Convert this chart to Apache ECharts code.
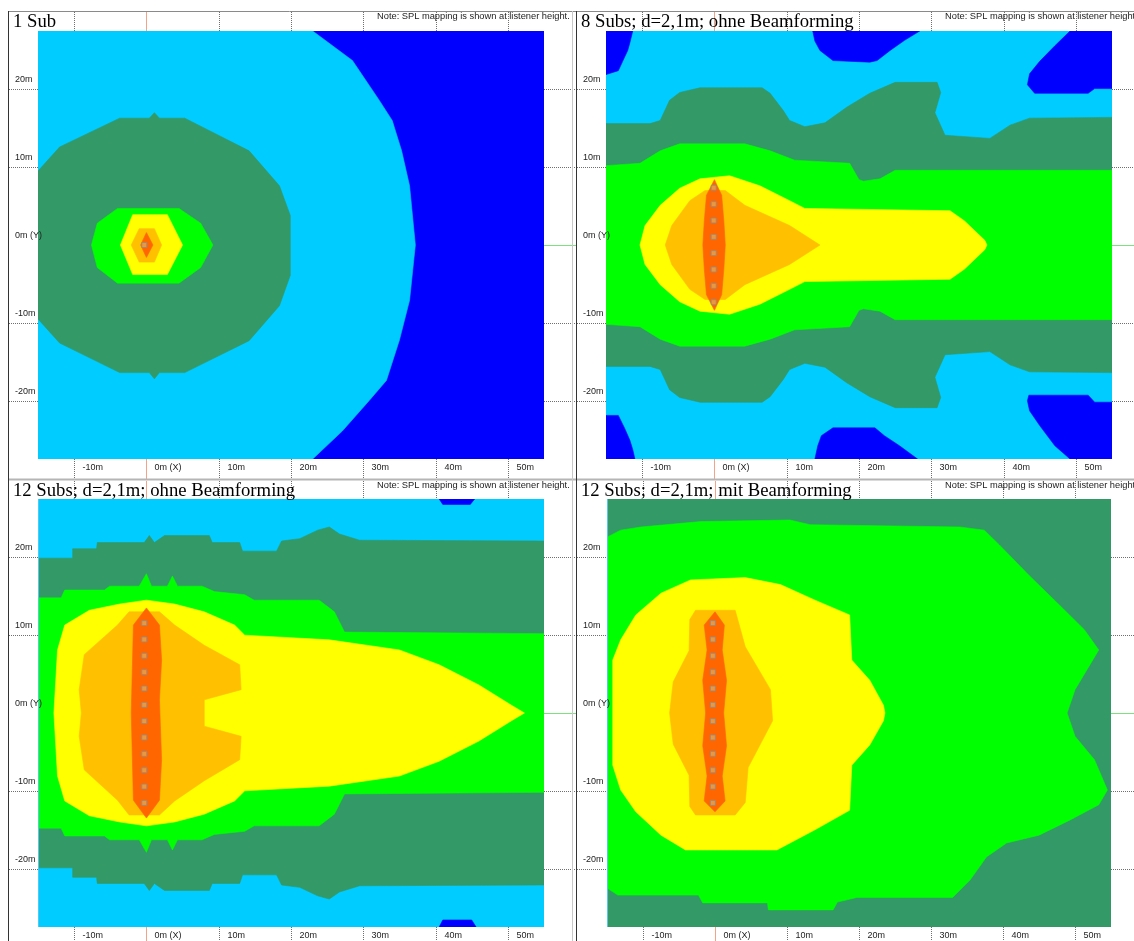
<!DOCTYPE html>
<html>
<head>
<meta charset="utf-8">
<script src="https://cdn.jsdelivr.net/npm/echarts@6/dist/echarts.min.js"></script>
<style>
  html, body { margin: 0; padding: 0; background: #fff; }
  #chart { width: 1134px; height: 941px; }
</style>
</head>
<body>
<div id="chart"></div>
<script>
// ---- SPL level colours (lowest to highest) ----
const LEVEL = {
  blue: '#0000FF',
  cyan: '#00CCFF',
  dkgreen: '#339966',
  green: '#00FF00',
  yellow: '#FFFF00',
  orange: '#FFC000',
  red: '#FF6600'
};

// ---- axes ----
const xRange = [-15, 55];
const yRange = [-27.5, 27.5];
const xTicks = [-10, 0, 10, 20, 30, 40, 50];
const xTickLabels = ['-10m', '0m (X)', '10m', '20m', '30m', '40m', '50m'];
const yTicks = [-20, -10, 0, 10, 20];
const yTickLabels = ['-20m', '-10m', '0m (Y)', '10m', '20m'];

const titles = [
  '1 Sub',
  '8 Subs; d=2,1m; ohne Beamforming',
  '12 Subs; d=2,1m; ohne Beamforming',
  '12 Subs; d=2,1m; mit Beamforming'
];
const noteText = 'Note: SPL mapping is shown at listener height.';

// ---- subwoofer positions (m) ----
const subs1 = [[-0.3, 0]];
const subs8 = [[-0.1, 7.35], [-0.1, 5.25], [-0.1, 3.15], [-0.1, 1.05],
               [-0.1, -1.05], [-0.1, -3.15], [-0.1, -5.25], [-0.1, -7.35]];
const subs12 = [[-0.3, 11.55], [-0.3, 9.45], [-0.3, 7.35], [-0.3, 5.25], [-0.3, 3.15], [-0.3, 1.05],
                [-0.3, -1.05], [-0.3, -3.15], [-0.3, -5.25], [-0.3, -7.35], [-0.3, -9.45], [-0.3, -11.55]];

// ---- level contours, outlines in metres ----
const fullArea = [[-15, 27.5], [55, 27.5], [55, -27.5], [-15, -27.5]];

// 1 Sub
const p1Cyan = [[-15, 27.5], [23, 27.5], [28.5, 23.7], [32.2, 18.6], [34, 16], [35.3, 12.1], [36.4, 7.6], [37.2, 0],
  [36.4, -7.1], [35, -12.2], [33.2, -17.4], [30.8, -20], [27.1, -23.9], [23, -27.5], [-15, -27.5]];
const p1DkGreen = [[-15, 9.5], [-12, 12.6], [-3.7, 16.3], [0.4, 16.3], [1.1, 17.0], [1.8, 16.3], [5.3, 16.3],
  [14.2, 12.1], [18.4, 7.6], [19.9, 3.8], [19.9, -3.9], [18.4, -7.8], [14.2, -12.3], [5.3, -16.4], [1.8, -16.4],
  [1.1, -17.2], [0.4, -16.4], [-3.7, -16.4], [-12, -12.6], [-15, -9.5]];
const p1Green = [[-4, 4.7], [4.5, 4.7], [7.5, 2.8], [9.2, 0], [7.5, -2.9], [4.5, -4.9], [-4, -4.9], [-6.8, -2.9], [-7.6, 0], [-6.8, 2.8]];
const p1Yellow = [[-1.9, 3.9], [2.9, 3.9], [5, 0], [2.9, -3.8], [-1.9, -3.8], [-3.6, 0]];
const p1Orange = [[-1.0, 2.1], [1.1, 2.1], [2.1, 0], [1.1, -2.2], [-1.0, -2.2], [-2.1, 0]];
const p1Red = [[0, 1.6], [0.9, 0], [0, -1.6], [-0.8, 0]];

// 8 Subs, no beamforming
const p2BlueTL = [[-15, 27.5], [-11.3, 27.5], [-11.7, 26], [-12, 25], [-12.7, 23.6], [-13.3, 22.4], [-15, 21.9]];
const p2BlueTM = [[13.6, 27.5], [13.9, 26.2], [14.6, 25], [16.4, 23.7], [21.5, 23.5], [22.5, 23.7], [24.3, 25], [26.3, 26.3], [28.4, 27.5]];
const p2BlueTR = [[49.2, 27.5], [47.1, 25.6], [45, 23.6], [43.6, 22], [43.3, 20.6], [44.3, 19.5], [51.7, 19.5], [52.6, 20.1], [55, 20.1], [55, 27.5]];
const p2BlueBL = [[-15, -21.9], [-13.3, -21.9], [-12.4, -23.6], [-11.7, -25.1], [-11.3, -26.3], [-11, -27.5], [-15, -27.5]];
const p2BlueBM = [[13.9, -27.5], [14.3, -25.8], [14.8, -24.5], [16.4, -23.5], [22.2, -23.5], [23.5, -24.5], [25.6, -25.8], [28.1, -27.5]];
const p2BlueBR = [[43.5, -19.3], [51.7, -19.3], [52.6, -20.2], [55, -20.2], [55, -27.5], [49.2, -27.5], [47.1, -25.8], [45, -23.2], [43.6, -21.3], [43.3, -20]];
const p2DkGreen = [[-15, 15.6], [-8.9, 15.6], [-7.5, 16.0], [-6.2, 18.6], [-4.8, 19.6], [-2.0, 20.2], [6.6, 20.2], [7.7, 19.5],
  [9.5, 17.3], [10.4, 16.0], [12.5, 15.2], [15.3, 15.7], [18.3, 17.7], [21.5, 19.5], [25.0, 20.9], [30.8, 20.9], [31.3, 19.6],
  [30.5, 17.0], [31.9, 14.1], [38.1, 13.7], [40.9, 15.4], [43.6, 16.3], [55, 16.4],
  [55, -16.4], [43.6, -16.3], [40.9, -15.4], [38.1, -13.7], [31.9, -14.1], [30.5, -17.0], [31.3, -19.6], [30.8, -20.9],
  [25.0, -20.9], [21.5, -19.5], [18.3, -17.7], [15.3, -15.7], [12.5, -15.2], [10.4, -16.0], [9.5, -17.3], [7.7, -19.5],
  [6.6, -20.2], [-2.0, -20.2], [-4.8, -19.6], [-6.2, -18.6], [-7.5, -16.0], [-8.9, -15.6], [-15, -15.6]];
const p2Green = [[-15, 10.2], [-10.3, 10.5], [-7.5, 12.1], [-4.8, 13.0], [4.2, 13.0], [7.7, 12.1], [11.1, 10.9], [18.7, 10.5],
  [20.0, 8.4], [20.6, 8.2], [22.9, 8.5], [25.0, 9.6], [55, 9.6], [55, -9.6], [25, -9.6], [22.9, -8.5], [20.6, -8.2], [20.0, -8.4],
  [18.7, -10.5], [11.1, -10.9], [7.7, -12.1], [4.2, -13], [-4.8, -13], [-7.5, -12.1], [-10.3, -10.5], [-15, -10.2]];
const p2Yellow = [[-10.3, 0], [-9.6, 2.5], [-7.5, 5.1], [-4.8, 7.3], [-2.0, 8.5], [2.1, 8.9], [6.3, 7.6], [10.4, 5.7], [12.5, 4.7],
  [32.6, 4.4], [34.6, 3.1], [37.4, 0.6], [37.7, 0], [37.4, -0.6], [34.6, -3.1], [32.6, -4.4], [12.5, -4.7], [10.4, -5.7],
  [6.3, -7.6], [2.1, -8.9], [-2.0, -8.5], [-4.8, -7.3], [-7.5, -5.1], [-9.6, -2.5]];
const p2Orange = [[-6.8, 0], [-5.9, 2.5], [-3.4, 5.7], [-1.3, 7.0], [1.5, 7.0], [4.2, 5.1], [10.4, 2.5], [14.6, 0],
  [10.4, -2.5], [4.2, -5.1], [1.5, -7.0], [-1.3, -7.0], [-3.4, -5.7], [-5.9, -2.5]];
const p2Red = [[0, 8.4], [1.0, 6.4], [1.3, 3.1], [1.5, 0], [1.3, -3.1], [1.0, -6.4], [0, -8.4], [-1.1, -6.4], [-1.4, -3.1],
  [-1.6, 0], [-1.4, 3.1], [-1.1, 6.4]];

// 12 Subs, no beamforming
const p3BlueTop = [[40.5, 27.5], [45.4, 27.5], [44.8, 26.8], [41.0, 26.8]];
const p3BlueBot = [[40.5, -27.5], [41.0, -26.6], [45.0, -26.6], [45.6, -27.5]];
const p3DkGreen = [[-15, 19.9], [-10.2, 19.9], [-10.2, 21.1], [-6.9, 21.1], [-6.8, 21.9], [-0.3, 21.9], [0.4, 22.8], [1.1, 21.9],
  [2.5, 22.8], [8.7, 22.8], [9.1, 21.9], [12.9, 21.9], [13.3, 20.8], [18.0, 20.8], [18.7, 22.1], [21.2, 22.4], [23.7, 23.5],
  [25.3, 23.9], [26.7, 23.0], [29.5, 22.2], [55, 22.1],
  [55, -22.1], [29.5, -22.2], [26.7, -23.0], [25.3, -23.9], [23.7, -23.5], [21.2, -22.4], [18.7, -22.1], [18.0, -20.8],
  [13.3, -20.8], [12.9, -21.9], [9.1, -21.9], [8.7, -22.8], [2.5, -22.8], [1.1, -21.9], [0.4, -22.8], [-0.3, -21.9],
  [-6.8, -21.9], [-6.9, -21.1], [-10.2, -21.1], [-10.2, -19.9], [-15, -19.9]];
const p3Green = [[-15, 14.8], [-11.8, 14.8], [-11.3, 15.8], [-5.8, 15.8], [-5.1, 16.3], [-1.0, 16.3], [0, 17.9], [0.7, 16.3],
  [2.9, 16.3], [3.6, 17.6], [4.3, 16.3], [7.7, 16.3], [9.4, 15.6], [13.6, 15.2], [14.9, 14.5], [23.9, 14.5], [26.0, 13.0],
  [27.4, 10.4], [55, 10.2],
  [55, -10.2], [27.4, -10.4], [26.0, -13.0], [23.9, -14.5], [14.9, -14.5], [13.6, -15.2], [9.4, -15.6], [7.7, -16.3],
  [4.3, -16.3], [3.6, -17.6], [2.9, -16.3], [0.7, -16.3], [0, -17.9], [-1.0, -16.3], [-5.1, -16.3], [-5.8, -15.8],
  [-11.3, -15.8], [-11.8, -14.8], [-15, -14.8]];
const p3Yellow = [[-12.8, 0], [-12.3, 8.1], [-11.3, 11.3], [-7.9, 13.2], [-3.7, 14.0], [0, 14.5], [3.9, 14.0], [8.0, 13.0],
  [12.2, 11.3], [13.6, 10.0], [25.3, 9.4], [35, 8.1], [40.5, 6.2], [46, 3.6], [50.5, 1.0], [52.3, 0],
  [50.5, -1.0], [46, -3.6], [40.5, -6.2], [35, -8.1], [25.3, -9.4], [13.6, -10.0], [12.2, -11.3], [8.0, -13.0],
  [3.9, -14.0], [0, -14.5], [-3.7, -14.0], [-7.9, -13.2], [-11.3, -11.3], [-12.3, -8.1]];
const p3Orange = [[-2.4, 13.0], [1.8, 13.0], [3.9, 11.3], [8.0, 8.7], [12.9, 6.2], [13.1, 3.0], [8.0, 1.7], [8.0, -1.7],
  [13.1, -3.0], [12.9, -6.0], [8.0, -8.7], [3.9, -11.3], [1.8, -13.1], [-2.4, -13.1], [-4.0, -11.2], [-8.6, -7.3],
  [-9.3, -3.0], [-9.0, 0], [-9.3, 3.0], [-8.6, 7.5], [-4.0, 11.3]];
const p3Red = [[0, 13.5], [1.8, 11.3], [2.1, 6.8], [1.8, 1.7], [2.1, -6], [1.8, -11.2], [0, -13.5], [-1.8, -11.2], [-2.1, 0], [-1.8, 11.3]];

// 12 Subs, with beamforming
const p4Green = [[-15, 22.6], [-13.1, 23.5], [-10.3, 23.9], [-2.0, 24.6], [10.4, 24.8], [13.2, 24.2], [34, 23.9], [37.4, 23.5],
  [39.5, 21.6], [43.6, 17.7], [47.8, 13.9], [51.3, 10.7], [53.3, 8.1], [50, 3.0], [48.9, 0], [50, -3.0], [52.7, -6.0],
  [54.5, -9.9], [53.3, -11.8], [49.2, -13.8], [45, -15.7], [40.5, -16.7], [37.7, -18.5], [35.4, -21.5], [33.0, -23.7],
  [19.7, -23.7], [17.0, -24.3], [16.4, -25.3], [7.4, -25.3], [7.3, -24.4], [-1.7, -24.4], [-2.3, -23.4], [-13.5, -23.4], [-15, -22.5]];
const p4Yellow = [[-14.2, 6.8], [-13.1, 9.4], [-11, 12.6], [-7.5, 15.4], [-3.4, 17.1], [4.2, 17.4], [9.1, 16.5], [13.9, 14.5],
  [18.7, 12.6], [19.0, 6.8], [21.5, 4.2], [23.4, 1.0], [23.6, 0], [23.4, -1.0], [21.5, -4.1], [19, -6.7], [18.7, -12.5],
  [13.9, -15.0], [8.6, -17.6], [-4.1, -17.6], [-7.5, -15.7], [-11, -12.7], [-13.1, -9.9], [-14.2, -6.7]];
const p4Orange = [[-2.7, 13.2], [2.8, 13.2], [4.2, 8.5], [7.7, 3.0], [8.0, -1.0], [4.6, -7.0], [4.2, -11.5], [2.8, -13.1],
  [-2.7, -13.1], [-3.5, -12.0], [-3.6, -8.0], [-5.8, -4.0], [-6.3, 0], [-5.8, 4.0], [-3.6, 8.0], [-3.5, 12.0]];
const p4Red = [[0, 13], [1.3, 11.3], [1.0, 8.1], [1.6, 4.2], [1.2, 0], [1.6, -4.2], [1.0, -8.1], [1.4, -11.3], [0, -12.7],
  [-1.5, -11.3], [-1.1, -8.1], [-1.7, -4.2], [-1.3, 0], [-1.7, 4.2], [-1.1, 8.1], [-1.5, 11.3]];

// stacking order: each list is painted from the lowest level upwards
const panels = [
  { frame: [8, 11], plot: [38, 31, 506, 428], subs: subs1, edge: false, zones: [
    ['blue', fullArea], ['cyan', p1Cyan], ['dkgreen', p1DkGreen], ['green', p1Green],
    ['yellow', p1Yellow], ['orange', p1Orange], ['red', p1Red]] },
  { frame: [576, 11], plot: [606, 31, 506, 428], subs: subs8, edge: false, zones: [
    ['cyan', fullArea], ['blue', p2BlueTL], ['blue', p2BlueTM], ['blue', p2BlueTR], ['blue', p2BlueBL],
    ['blue', p2BlueBM], ['blue', p2BlueBR], ['dkgreen', p2DkGreen], ['green', p2Green],
    ['yellow', p2Yellow], ['orange', p2Orange], ['red', p2Red]] },
  { frame: [8, 480], plot: [38, 499, 506, 428], subs: subs12, edge: true, zones: [
    ['cyan', fullArea], ['blue', p3BlueTop], ['blue', p3BlueBot], ['dkgreen', p3DkGreen], ['green', p3Green],
    ['yellow', p3Yellow], ['orange', p3Orange], ['red', p3Red]] },
  { frame: [576, 480], plot: [607, 499, 504, 428], subs: subs12, edge: true, zones: [
    ['dkgreen', fullArea], ['green', p4Green], ['yellow', p4Yellow], ['orange', p4Orange], ['red', p4Red]] }
];

const SANS = '"Liberation Sans", Arial, sans-serif';
const SERIF = '"Liberation Serif", "Times New Roman", serif';
const DOT = '#6f6f6f';

const grids = [], xAxes = [], yAxes = [], series = [], graphics = [];

panels.forEach((p, k) => {
  grids.push({ left: p.plot[0], top: p.plot[1], width: p.plot[2], height: p.plot[3], containLabel: false });
  xAxes.push({ gridIndex: k, type: 'value', min: xRange[0], max: xRange[1], show: false });
  yAxes.push({ gridIndex: k, type: 'value', min: yRange[0], max: yRange[1], show: false });

  // coloured SPL levels
  series.push({
    type: 'custom', xAxisIndex: k, yAxisIndex: k, clip: true, silent: true, z: 1,
    data: p.zones.map((z, i) => [i]),
    renderItem: (params, api) => {
      const z = p.zones[params.dataIndex];
      return {
        type: 'polygon',
        shape: { points: z[1].map(pt => api.coord(pt)) },
        style: { fill: LEVEL[z[0]], stroke: LEVEL[z[0]], lineWidth: 0.6 }
      };
    }
  });

  // x ticks: dotted marks in the top and bottom margins plus labels
  series.push({
    type: 'custom', xAxisIndex: k, yAxisIndex: k, clip: false, silent: true, z: 3,
    data: xTicks.map(v => [v, 0]),
    renderItem: (params, api) => {
      const cs = params.coordSys;
      const i = params.dataIndex;
      const x = Math.round(api.coord([xTicks[i], 0])[0]) + 0.5;
      const isZero = xTicks[i] === 0;
      const ls = isZero ? { stroke: '#F2A488', lineWidth: 1 } : { stroke: DOT, lineWidth: 1, lineDash: [1, 1] };
      const top = cs.y, bot = cs.y + cs.height;
      const kids = [
        { type: 'line', shape: { x1: x, y1: p.frame[1] + 1, x2: x, y2: top }, style: ls },
        { type: 'line', shape: { x1: x, y1: bot, x2: x, y2: bot + 20 }, style: ls },
        { type: 'text', style: { text: xTickLabels[i], x: x + 8, y: bot + 8.5, font: '9px ' + SANS,
          fill: '#222', verticalAlign: 'middle', align: 'left' } }
      ];
      // thin light-blue plot edges on the lower panels
      if (p.edge && i === 0) {
        kids.push({ type: 'line', shape: { x1: cs.x + 0.5, y1: top, x2: cs.x + 0.5, y2: bot },
          style: { stroke: '#55C8F2', lineWidth: 1 } });
      }
      return { type: 'group', children: kids };
    }
  });

  // y ticks: dotted marks in the left and right margins plus labels
  series.push({
    type: 'custom', xAxisIndex: k, yAxisIndex: k, clip: false, silent: true, z: 3,
    data: yTicks.map(v => [0, v]),
    renderItem: (params, api) => {
      const cs = params.coordSys;
      const i = params.dataIndex;
      const y = Math.round(api.coord([0, yTicks[i]])[1]) + 0.5;
      const isZero = yTicks[i] === 0;
      const ls = { stroke: DOT, lineWidth: 1, lineDash: [1, 1] };
      const lsRight = isZero ? { stroke: '#7EE07E', lineWidth: 1 } : ls;
      const left = cs.x, right = cs.x + cs.width;
      return { type: 'group', children: [
        { type: 'line', shape: { x1: p.frame[0] + 1, y1: y, x2: left, y2: y }, style: isZero ? { stroke: 'transparent' } : ls },
        { type: 'line', shape: { x1: right, y1: y, x2: right + 32, y2: y }, style: lsRight },
        { type: 'text', style: { text: yTickLabels[i], x: p.frame[0] + 7, y: y - 10, font: '9px ' + SANS,
          fill: '#222', verticalAlign: 'middle', align: 'left' } }
      ] };
    }
  });

  // subwoofer boxes
  series.push({
    type: 'scatter', xAxisIndex: k, yAxisIndex: k, silent: true, z: 4,
    symbol: 'rect', symbolSize: 5,
    itemStyle: { color: '#E9A24A', borderColor: '#8C8C8C', borderWidth: 1 },
    data: p.subs
  });

  // panel title and note
  graphics.push({ type: 'text', z: 10, style: { text: titles[k], x: p.frame[0] + 5, y: p.frame[1] + 11.5,
    font: '18.7px ' + SERIF, fill: '#000', verticalAlign: 'middle' } });
  graphics.push({ type: 'text', z: 10, style: { text: noteText, x: p.frame[0] + 369, y: p.frame[1] + 5.5,
    font: '9.3px ' + SANS, fill: '#222', verticalAlign: 'middle' } });
});

// panel borders
graphics.push(
  { type: 'line', z: 9, shape: { x1: 8, y1: 11.5, x2: 1134, y2: 11.5 }, style: { stroke: '#8a8a8a', lineWidth: 1 } },
  { type: 'line', z: 9, shape: { x1: 8, y1: 479.5, x2: 1134, y2: 479.5 }, style: { stroke: '#b5b5b5', lineWidth: 2 } },
  { type: 'line', z: 9, shape: { x1: 8.5, y1: 11, x2: 8.5, y2: 941 }, style: { stroke: '#333', lineWidth: 1 } },
  { type: 'line', z: 9, shape: { x1: 572.5, y1: 11, x2: 572.5, y2: 941 }, style: { stroke: '#c8c8c8', lineWidth: 1 } },
  { type: 'line', z: 9, shape: { x1: 576.5, y1: 11, x2: 576.5, y2: 941 }, style: { stroke: '#333', lineWidth: 1 } }
);

const chart = echarts.init(document.getElementById('chart'), null, { renderer: 'canvas' });
chart.setOption({
  animation: false,
  backgroundColor: '#ffffff',
  grid: grids,
  xAxis: xAxes,
  yAxis: yAxes,
  series: series,
  graphic: graphics
});
</script>
</body>
</html>
